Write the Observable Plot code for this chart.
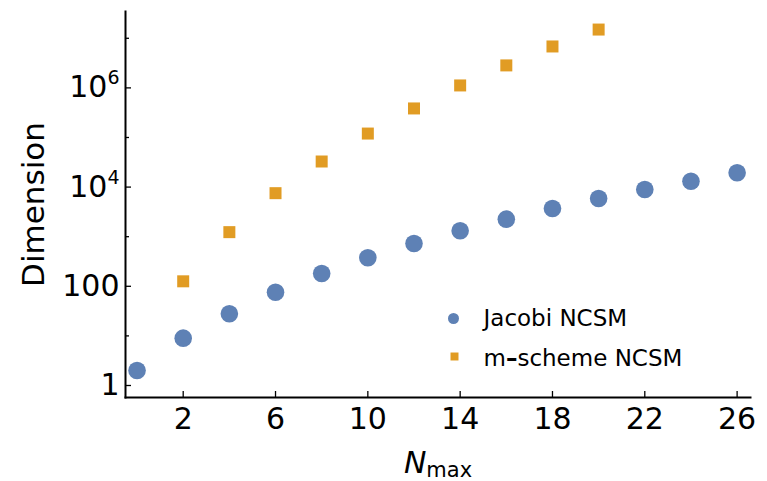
<!DOCTYPE html>
<html><head><meta charset="utf-8">
<script src="https://cdn.jsdelivr.net/npm/d3@7"></script>
<script src="https://cdn.jsdelivr.net/npm/@observablehq/plot@0.6"></script>
<style>
body{margin:0;background:#fff;}
</style>
</head><body><div id="chart"></div>
<script>
// ---- data ----
const nmaxJacobi = [0, 2, 4, 6, 8, 10, 12, 14, 16, 18, 20, 22, 24, 26];
const dimJacobi = [2, 9, 28, 76, 181, 376, 728, 1315, 2255, 3700, 5900, 8950, 13150, 19400];
const nmaxMScheme = [2, 4, 6, 8, 10, 12, 14, 16, 18, 20];
const dimMScheme = [126, 1235, 7540, 32800, 120000, 385000, 1120000, 2840000, 6840000, 15000000];
const xTicks = [2, 6, 10, 14, 18, 22, 26];
const yMajorTicks = [1, 100, 1e4, 1e6];
const yMinorTicks = [10, 1e3, 1e5, 1e7];
const yTickLabels = ["1", "100", "10^4", "10^6"];
const seriesNames = ["Jacobi NCSM", "m\u2013scheme NCSM"];
const colors = ["#5e81b5", "#e19c24"];
const xLabel = "Nmax";
const yLabel = "Dimension";

const jac = nmaxJacobi.map((n, i) => ({n, d: dimJacobi[i]}));
const ms = nmaxMScheme.map((n, i) => ({n, d: dimMScheme[i]}));

const chart = Plot.plot({
  width: 767, height: 481,
  marginLeft: 125, marginRight: 17, marginTop: 11, marginBottom: 84,
  style: {fontFamily: "DejaVu Sans", fontSize: "30px", color: "black", background: "white"},
  x: {domain: [-0.5, 26.58]},
  y: {type: "log", domain: [Math.pow(10, -0.242), Math.pow(10, 7.54)]},
  marks: [
    Plot.axisY({ticks: yMajorTicks, tickSize: 6, dx: 6, fill: "none", label: null, strokeWidth: 1.3}),
    Plot.axisY({ticks: yMinorTicks, tickSize: 4, dx: 4, fill: "none", label: null, strokeWidth: 1.3}),
    Plot.axisY({ticks: yMajorTicks, tickSize: 0, tickPadding: 6, fontSize: 30, label: null,
      tickFormat: d => yTickLabels[yMajorTicks.indexOf(d)]}),
    Plot.axisX({ticks: xTicks, tickSize: 6, dy: -6, fill: "none", label: null, strokeWidth: 1.3}),
    Plot.axisX({ticks: xTicks, tickSize: 0, tickPadding: 10, fontSize: 30, label: null}),
    Plot.frame({anchor: "left", strokeWidth: 2}),
    Plot.frame({anchor: "bottom", strokeWidth: 2}),
    Plot.dot(jac, {x: "n", y: "d", r: 8.8, fill: colors[0]}),
    Plot.dot(ms, {x: "n", y: "d", r: 6.77, symbol: "square", fill: colors[1]}),
    // legend
    Plot.dot([seriesNames[0]], {frameAnchor: "top-left", dx: 328, dy: 307, r: 5.5, fill: colors[0]}),
    Plot.dot([seriesNames[1]], {frameAnchor: "top-left", dx: 329, dy: 345, r: 4.5, symbol: "square", fill: colors[1]}),
    Plot.text([seriesNames[0]], {text: d => d, frameAnchor: "top-left", dx: 358, dy: 307, textAnchor: "start", lineAnchor: "middle", fontSize: 23, fill: "black"}),
    Plot.text([seriesNames[1]], {text: d => d, frameAnchor: "top-left", dx: 358, dy: 347.5, textAnchor: "start", lineAnchor: "middle", fontSize: 23, fill: "black"}),
    // axis labels
    Plot.text([yLabel], {text: d => d, frameAnchor: "left", rotate: -90, dx: -91, textAnchor: "middle", lineAnchor: "middle", fontSize: 31, fill: "black"}),
    Plot.text([xLabel], {text: d => d, frameAnchor: "bottom", dy: 65.4, textAnchor: "middle", lineAnchor: "middle", fontSize: 30, fill: "black"})
  ]
});

const NS = "http://www.w3.org/2000/svg";
function tspan(txt, attrs) {
  const s = document.createElementNS(NS, "tspan");
  s.textContent = txt;
  for (const k in attrs) s.setAttribute(k, attrs[k]);
  return s;
}
chart.querySelectorAll("text").forEach(t => {
  const c = t.textContent;
  const m = /^10\^(\d+)$/.exec(c);
  if (m) {
    t.textContent = "";
    t.append(tspan("10", {}), tspan(m[1], {"font-size": "19", "dy": "-13"}));
  } else if (c === xLabel) {
    t.textContent = "";
    t.append(tspan("N", {"font-style": "italic"}), tspan("max", {"font-size": "21", "dy": "4"}));
  } else if (c === seriesNames[1]) {
    const parts = c.split("\u2013");
    t.textContent = "";
    t.append(tspan(parts[0], {}), tspan("\u2013", {"font-weight": "bold"}), tspan(parts[1], {}));
  }
});
document.getElementById("chart").append(chart);
</script>
</body></html>
